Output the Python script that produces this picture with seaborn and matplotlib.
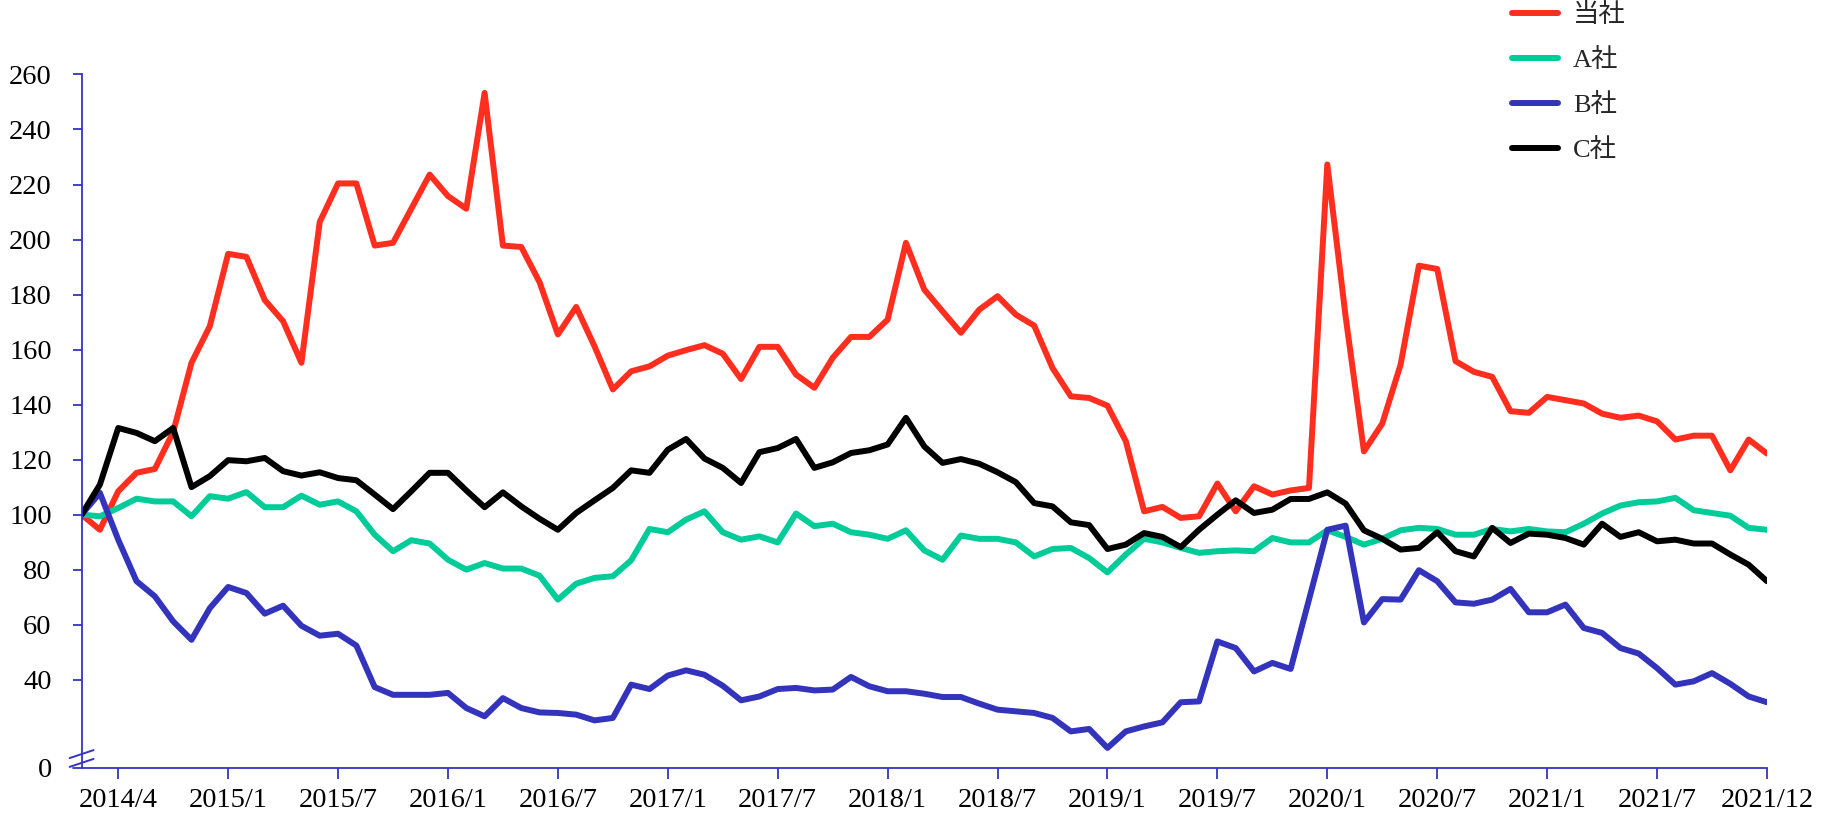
import numpy as np
import pandas as pd
import matplotlib
matplotlib.use('Agg')
import matplotlib.pyplot as plt
import seaborn as sns
from matplotlib.lines import Line2D
from matplotlib.font_manager import FontProperties
from matplotlib.transforms import blended_transform_factory

# ---------------- data ----------------
series_names = ['当社', 'A社', 'B社', 'C社']

tosha = [100, 94.5, 108.5, 115.2, 116.6, 130, 155.2, 168.5, 194.8, 193.7,
         178, 170.3, 155.2, 206.4, 220.4, 220.4, 197.8, 198.8, 211.2, 223.6,
         215.8, 211.2, 253.3, 197.8, 197.3, 184.5, 165.5, 175.5, 161.2, 145.5,
         152.1, 153.9, 157.8, 159.8, 161.6, 158.5, 149.3, 161, 161, 150.9,
         146.1, 157, 164.6, 164.6, 170.9, 198.8, 181.8, 173.9, 166.1, 174.5,
         179.4, 172.7, 168.7, 153.3, 143, 142.4, 139.6, 126.7, 101.2, 102.8,
         98.8, 99.4, 111.3, 101.2, 110.3, 107.3, 108.8, 109.7, 227.3, 172,
         123, 133.1, 154.5, 190.5, 189.3, 155.8, 151.9, 150.1, 137.6, 137,
         142.8, 141.6, 140.4, 136.7, 135.2, 136, 133.9, 127.3, 128.7, 128.7,
         116.1, 127.3, 122.2]

a_sha = [100, 99.4, 102.4, 105.8, 104.8, 104.8, 99.4, 106.7, 105.8, 108.2,
         102.7, 102.7, 106.9, 103.6, 104.8, 101.2, 92.7, 86.7, 90.7, 89.5,
         83.6, 80, 82.4, 80.4, 80.4, 77.8, 69.1, 74.9, 77, 77.6,
         83.4, 94.8, 93.6, 98.2, 101.2, 93.6, 90.9, 92.1, 89.9, 100.4,
         95.8, 96.7, 93.6, 92.7, 91.2, 94.3, 87, 83.6, 92.4, 91.2,
         91.2, 89.9, 84.8, 87.5, 87.9, 84.2, 79, 85.5, 91.2, 89.9,
         87.9, 86.1, 86.7, 87, 86.7, 91.5, 89.9, 89.9, 94.3, 91.9,
         89.1, 91.2, 94.3, 95.2, 94.8, 92.7, 92.7, 94.8, 93.9, 94.8,
         93.9, 93.6, 96.7, 100.4, 103.3, 104.5, 104.8, 106.1, 101.6, 100.6,
         99.6, 95.2, 94.5]

b_sha = [100, 107.9, 90.9, 75.8, 70.3, 61.2, 54.5, 66, 73.7, 71.5,
         64, 66.9, 59.6, 56, 56.7, 52.4, 37.3, 34.5, 34.5, 34.5,
         35.2, 29.7, 26.7, 33.3, 29.7, 28.1, 27.9, 27.3, 25.2, 26.1,
         38.2, 36.6, 41.5, 43.4, 41.8, 37.8, 32.5, 33.9, 36.6, 37,
         36.1, 36.4, 41, 37.6, 35.8, 35.8, 34.9, 33.7, 33.7, 31.3,
         29.1, 28.5, 27.9, 26.1, 21.2, 22.1, 15.2, 21.2, 23, 24.5,
         31.8, 32.1, 53.9, 51.5, 43, 46.1, 43.9, 69.1, 94.5, 96,
         60.8, 69.3, 69.1, 79.8, 75.8, 68.1, 67.6, 69.1, 73, 64.5,
         64.5, 67.3, 58.8, 57, 51.5, 49.5, 44.2, 38.2, 39.4, 42.4,
         38.5, 33.9, 31.8]

c_sha = [100, 110.9, 131.5, 129.7, 126.7, 131.5, 110, 114, 119.8, 119.4,
         120.6, 115.8, 114.2, 115.4, 113.3, 112.5, 107.3, 102, 108.5, 115.2,
         115.2, 108.8, 102.7, 108.1, 103, 98.5, 94.5, 100.6, 105.2, 109.7,
         116.1, 115.2, 123.6, 127.5, 120.4, 117, 111.5, 122.7, 124.2, 127.5,
         117, 119, 122.4, 123.4, 125.5, 135.2, 124.8, 118.8, 120.2, 118.5,
         115.4, 111.8, 104.2, 103, 97.2, 96.2, 87.5, 89.1, 93.3, 91.9,
         88.2, 94.5, 100, 105.2, 100.6, 101.8, 105.7, 105.7, 108.1, 104,
         94.3, 91.2, 87.3, 87.9, 93.6, 86.7, 84.8, 95.2, 89.7, 93.1,
         92.7, 91.5, 89.1, 96.7, 91.9, 93.6, 90.3, 90.9, 89.5, 89.5,
         85.5, 81.8, 75.8]

tick_labels = ['2014/4', '2015/1', '2015/7', '2016/1', '2016/7', '2017/1',
               '2017/7', '2018/1', '2018/7', '2019/1', '2019/7', '2020/1',
               '2020/7', '2021/1', '2021/7', '2021/12']
tick_positions = [2, 8, 14, 20, 26, 32, 38, 44, 50, 56, 62, 68, 74, 80, 86, 92]
ytick_values = [40, 60, 80, 100, 120, 140, 160, 180, 200, 220, 240, 260]
y_bottom = 7.9          # axis floor, labelled "0" (broken axis)
colors = ['#FF2E1F', '#00CC99', '#3333BB', '#000000']
axis_color = '#3535BE'
line_w = 4.3

# ---------------- figure ----------------
sns.set_theme(style='white')
plt.rcParams['font.family'] = ['Liberation Serif', 'Noto Sans CJK JP']

fig = plt.figure(figsize=(18.25, 8.22), dpi=100)
ax = fig.add_axes([0.0447, 0.0657, 0.9235, 0.8437])

n = len(tosha)
df = pd.DataFrame({'idx': np.arange(n), series_names[0]: tosha,
                   series_names[1]: a_sha, series_names[2]: b_sha,
                   series_names[3]: c_sha})
long = df.melt(id_vars='idx', var_name='company', value_name='value')

sns.lineplot(data=long, x='idx', y='value', hue='company',
             hue_order=series_names, palette=colors, linewidth=line_w,
             estimator=None, ax=ax, legend=True)
for ln in ax.lines:
    ln.set_solid_joinstyle('round')
    ln.set_solid_capstyle('round')

ax.set_xlim(0, n - 1)
ax.set_ylim(y_bottom, 260)
ax.set_xlabel('')
ax.set_ylabel('')

ax.set_xticks(tick_positions)
ax.set_xticklabels(tick_labels)
ax.set_yticks([y_bottom] + ytick_values)
ax.set_yticklabels(['0'] + [str(v) for v in ytick_values])

for side in ['top', 'right']:
    ax.spines[side].set_visible(False)
for side in ['left', 'bottom']:
    ax.spines[side].set_color(axis_color)
    ax.spines[side].set_linewidth(1.3)

ax.tick_params(axis='y', which='major', direction='out', length=6.5,
               width=1.3, color=axis_color, pad=15, labelsize=20.5,
               labelcolor='black', left=True)
ax.tick_params(axis='x', which='major', direction='out', length=8,
               width=1.3, color=axis_color, pad=6.5, labelsize=20.5,
               labelcolor='black', bottom=True)
ax.yaxis.get_major_ticks()[0].tick1line.set_visible(False)
ax.grid(False)

# axis break marks
trans = blended_transform_factory(ax.transAxes, ax.transData)
for y0, y1 in [(8.3, 11.2), (11.5, 14.4)]:
    ax.add_line(Line2D([-0.0071, 0.0071], [y0, y1], transform=trans,
                       color=axis_color, lw=1.4, clip_on=False))
# x axis slight extension to the left of the y axis
ax.add_line(Line2D([-0.005, 0.0], [0, 0], transform=ax.transAxes,
                   color=axis_color, lw=1.3, clip_on=False))

# legend
if ax.get_legend() is not None:
    ax.get_legend().remove()
leg_handles = [Line2D([0], [0], color=c, lw=line_w, solid_capstyle='round')
               for c in colors]
fp = FontProperties(family=['Liberation Serif', 'Noto Sans CJK JP'], size=19)
fig.legend(leg_handles, series_names, loc='upper left',
           bbox_to_anchor=(0.8285, 0.997), frameon=False, prop=fp,
           handlelength=1.76, handletextpad=0.55, labelspacing=0.8,
           borderpad=0, borderaxespad=0)

fig.savefig('out.png', dpi=100, facecolor='white')
